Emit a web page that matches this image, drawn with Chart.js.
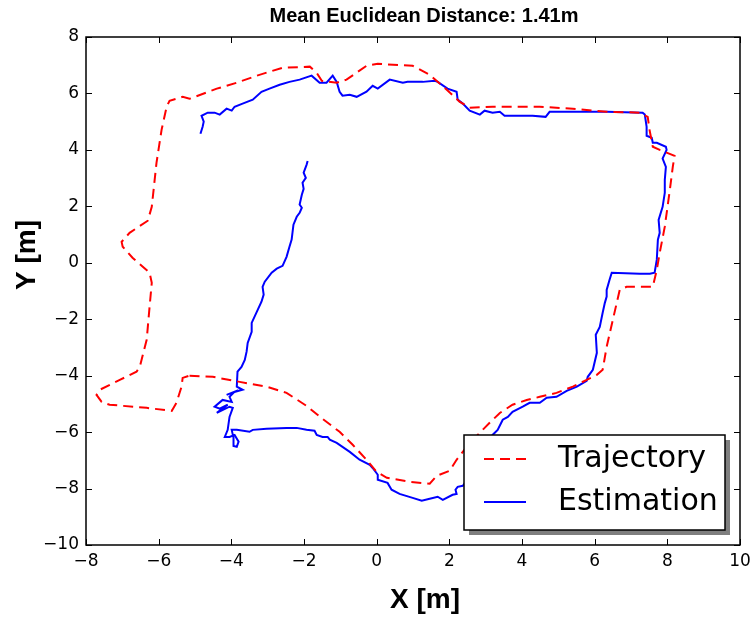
<!DOCTYPE html>
<html><head><meta charset="utf-8">
<script src="https://cdn.jsdelivr.net/npm/chart.js@4/dist/chart.umd.min.js"></script>
<style>html,body{margin:0;padding:0;background:#fff}#wrap{width:752px;height:617px}</style>
</head><body><div id="wrap"><canvas id="c" width="752" height="617"></canvas></div>
<script>
const titleText = 'Mean Euclidean Distance: 1.41m';
const xTitle = 'X [m]';
const yTitle = 'Y [m]';
const seriesNames = ['Trajectory', 'Estimation'];
const xTicks = [-8, -6, -4, -2, 0, 2, 4, 6, 8, 10];
const yTicks = [-10, -8, -6, -4, -2, 0, 2, 4, 6, 8];

const trajX = [-5.15,-4.51,-3.77,-3.03,-2.48,-1.93,-1.49,-1.02,-0.66,-0.28,0.00,0.28,0.91,1.46,1.65,2.01,2.20,2.48,2.84,3.11,3.39,3.74,4.13,4.49,4.95,5.40,5.78,6.06,6.22,6.33,6.50,6.69,6.88,7.60,7.71,7.79,7.93,8.07,8.15,8.20,7.79,7.60,7.51,7.46,7.24,6.33,5.40,4.49,3.19,2.56,2.28,1.93,1.46,0.99,0.03,-0.28,-0.83,-1.10,-1.51,-1.65,-1.84,-2.59,-3.30,-3.85,-4.40,-5.15,-5.34,-5.70,-5.78,-5.92,-6.06,-6.19,-6.30,-6.80,-7.02,-6.99,-6.72,-6.25,-6.19,-6.25,-6.33,-6.52,-6.61,-7.07,-7.62,-7.71,-7.57,-7.35,-6.33,-5.64,-5.51,-5.37,-5.34,-5.15];
const trajY = [-4.00,-4.04,-4.22,-4.39,-4.61,-5.07,-5.53,-5.99,-6.45,-6.98,-7.41,-7.62,-7.76,-7.83,-7.55,-7.37,-6.98,-6.52,-6.02,-5.67,-5.32,-5.03,-4.86,-4.75,-4.61,-4.39,-4.15,-3.97,-3.79,-2.98,-2.02,-0.96,-0.85,-0.85,-0.25,0.35,1.28,2.59,3.40,3.79,4.00,4.11,4.71,5.17,5.32,5.35,5.46,5.53,5.53,5.49,5.71,6.13,6.66,6.98,7.05,6.98,6.49,6.38,6.45,6.73,6.95,6.91,6.63,6.38,6.17,5.81,5.88,5.74,5.53,4.71,3.54,1.98,1.49,1.06,0.74,0.57,0.18,-0.35,-0.71,-1.56,-2.73,-3.69,-3.86,-4.15,-4.50,-4.68,-4.93,-5.03,-5.14,-5.25,-4.96,-4.39,-4.08,-4.00];

const estX = [-1.90,-1.93,-2.01,-1.95,-2.04,-2.01,-2.06,-2.12,-2.06,-2.12,-2.20,-2.29,-2.34,-2.40,-2.48,-2.59,-2.75,-2.89,-3.08,-3.14,-3.11,-3.17,-3.30,-3.44,-3.44,-3.55,-3.58,-3.63,-3.72,-3.83,-3.85,-3.69,-3.99,-4.13,-3.91,-4.05,-3.99,-4.24,-4.46,-4.32,-4.10,-4.40,-4.05,-3.96,-4.05,-4.10,-4.18,-4.05,-3.91,-3.80,-3.85,-3.94,-3.94,-3.99,-3.85,-3.50,-3.41,-3.03,-2.48,-2.20,-1.93,-1.71,-1.65,-1.49,-1.35,-1.29,-1.10,-0.74,-0.47,-0.19,-0.11,0.03,0.03,0.30,0.41,0.63,0.99,1.24,1.46,1.68,1.82,2.09,2.20,2.17,2.23,2.37,2.70,2.97,3.19,3.33,3.47,3.61,3.74,4.02,4.21,4.49,4.68,4.95,5.23,5.51,5.78,5.81,5.95,6.06,6.03,6.14,6.22,6.28,6.33,6.33,6.41,6.47,7.24,7.52,7.65,7.71,7.74,7.79,7.76,7.87,7.93,7.93,7.96,7.87,7.98,7.96,7.71,7.60,7.57,7.43,7.43,7.38,7.32,6.33,5.95,5.23,4.76,4.65,4.29,3.94,3.52,3.39,3.19,2.97,2.84,2.56,2.37,2.23,2.20,1.95,1.68,1.60,1.27,0.85,0.72,0.36,0.03,-0.11,-0.28,-0.55,-0.74,-0.94,-1.02,-1.10,-1.21,-1.38,-1.57,-1.79,-2.12,-2.40,-2.67,-2.95,-3.17,-3.41,-3.69,-3.91,-3.99,-4.13,-4.32,-4.46,-4.65,-4.82,-4.76,-4.79,-4.85];
const estY = [3.61,3.47,3.19,3.01,2.84,2.62,2.41,2.06,1.95,1.77,1.63,1.35,0.82,0.57,0.21,-0.11,-0.21,-0.35,-0.67,-0.85,-1.13,-1.38,-1.74,-2.13,-2.45,-2.84,-3.15,-3.44,-3.69,-3.86,-4.39,-4.50,-4.61,-4.68,-4.57,-4.75,-4.93,-4.86,-5.10,-5.17,-5.03,-5.32,-5.10,-5.14,-5.46,-5.92,-6.17,-6.17,-6.10,-6.34,-6.52,-6.49,-6.20,-5.92,-5.92,-5.99,-5.92,-5.88,-5.85,-5.85,-5.92,-5.95,-6.10,-6.17,-6.17,-6.27,-6.38,-6.70,-6.98,-7.16,-7.27,-7.51,-7.69,-7.80,-8.04,-8.19,-8.33,-8.43,-8.36,-8.29,-8.40,-8.22,-8.19,-8.04,-7.94,-7.90,-7.34,-6.70,-6.10,-5.92,-5.56,-5.46,-5.28,-5.10,-4.96,-4.96,-4.78,-4.75,-4.54,-4.39,-4.18,-4.04,-3.79,-3.19,-2.55,-2.27,-1.77,-1.42,-1.20,-0.96,-0.60,-0.35,-0.39,-0.39,-0.35,0.11,0.82,1.06,1.52,1.98,2.48,2.94,3.40,3.69,4.00,4.11,4.25,4.25,4.43,4.50,4.82,5.25,5.32,5.35,5.35,5.35,5.35,5.17,5.21,5.21,5.21,5.35,5.32,5.39,5.25,5.39,5.64,5.78,6.06,6.17,6.41,6.45,6.41,6.41,6.38,6.49,6.17,6.27,6.06,5.88,5.95,5.92,6.06,6.41,6.63,6.38,6.38,6.63,6.49,6.41,6.31,6.17,6.06,5.78,5.64,5.53,5.39,5.46,5.25,5.32,5.32,5.21,5.00,4.82,4.57];

const toPts = (xs, ys) => xs.map((v, i) => ({x: v, y: ys[i]}));
const minus = v => String(v).replace('-', '\u2212');

const RED = '#ff0000', BLUE = '#0000ff';
const DASH = [10, 6];

const decor = {
  id: 'decor',
  afterDatasetsDraw(chart) {
    const {ctx, chartArea: a, scales: {x, y}} = chart;
    ctx.save();
    // inward ticks
    ctx.strokeStyle = '#000';
    ctx.lineWidth = 1;
    ctx.beginPath();
    xTicks.forEach(v => {
      const p = Math.round(x.getPixelForValue(v)) + 0.5;
      ctx.moveTo(p, a.bottom); ctx.lineTo(p, a.bottom - 6);
      ctx.moveTo(p, a.top); ctx.lineTo(p, a.top + 6);
    });
    yTicks.forEach(v => {
      const p = Math.round(y.getPixelForValue(v)) + 0.5;
      ctx.moveTo(a.left, p); ctx.lineTo(a.left + 6, p);
      ctx.moveTo(a.right, p); ctx.lineTo(a.right - 6, p);
    });
    ctx.stroke();
    // frame
    ctx.lineWidth = 1.5;
    ctx.strokeRect(a.left, a.top, a.right - a.left, a.bottom - a.top);

    // legend box with shadow
    const L = 464, T = 435, W = 261, H = 95;
    ctx.fillStyle = 'rgba(0,0,0,0.5)';
    ctx.fillRect(L + 5, T + 5, W, H);
    ctx.fillStyle = '#fff';
    ctx.fillRect(L, T, W, H);
    ctx.lineWidth = 1.5;
    ctx.strokeStyle = '#000';
    ctx.strokeRect(L, T, W, H);
    // entries
    ctx.lineWidth = 2;
    ctx.strokeStyle = RED;
    ctx.setLineDash(DASH);
    ctx.beginPath(); ctx.moveTo(484, 459); ctx.lineTo(526, 459); ctx.stroke();
    ctx.setLineDash([]);
    ctx.strokeStyle = BLUE;
    ctx.beginPath(); ctx.moveTo(484, 502); ctx.lineTo(526, 502); ctx.stroke();
    ctx.fillStyle = '#000';
    ctx.font = '30px "DejaVu Sans"';
    ctx.textAlign = 'left';
    ctx.textBaseline = 'middle';
    ctx.fillText(seriesNames[0], 558, 459);
    ctx.fillText(seriesNames[1], 558, 502);

    // titles
    ctx.textAlign = 'center';
    ctx.textBaseline = 'middle';
    ctx.font = 'bold 20px "Liberation Sans"';
    ctx.fillText(titleText, 424, 16);
    ctx.font = 'bold 28px "Liberation Sans"';
    ctx.fillText(xTitle, 425, 600);
    ctx.save();
    ctx.translate(27, 255);
    ctx.rotate(-Math.PI / 2);
    ctx.fillText(yTitle, 0, 0);
    ctx.restore();
    ctx.restore();
  }
};

const tickFont = {family: 'DejaVu Sans', size: 17};

new Chart(document.getElementById('c'), {
  type: 'scatter',
  data: {
    datasets: [
      {label: seriesNames[0], data: toPts(trajX, trajY), showLine: true, borderColor: RED, backgroundColor: RED,
       borderWidth: 2, borderDash: DASH, pointRadius: 0, tension: 0},
      {label: seriesNames[1], data: toPts(estX, estY), showLine: true, borderColor: BLUE, backgroundColor: BLUE,
       borderWidth: 2, pointRadius: 0, tension: 0}
    ]
  },
  options: {
    responsive: false,
    animation: false,
    devicePixelRatio: 1,
    layout: {padding: {top: 37, right: 12, left: 0, bottom: 0}},
    plugins: {legend: {display: false}, title: {display: false}, tooltip: {enabled: false}},
    scales: {
      x: {
        type: 'linear', min: -8, max: 10,
        afterBuildTicks: s => { s.ticks = xTicks.map(v => ({value: v})); },
        afterFit: s => { s.height = 72; s.paddingLeft = 0; s.paddingRight = 0; },
        grid: {display: false, drawTicks: false}, border: {display: false},
        ticks: {font: tickFont, color: '#000', padding: 6, maxRotation: 0, autoSkip: false, callback: v => minus(v)}
      },
      y: {
        type: 'linear', min: -10, max: 8,
        afterBuildTicks: s => { s.ticks = yTicks.map(v => ({value: v})); },
        afterFit: s => { s.width = 86; s.paddingTop = 0; s.paddingBottom = 0; },
        grid: {display: false, drawTicks: false}, border: {display: false},
        ticks: {font: tickFont, color: '#000', padding: 7, autoSkip: false, callback: v => minus(v)}
      }
    }
  },
  plugins: [decor]
});
</script>
</body></html>
